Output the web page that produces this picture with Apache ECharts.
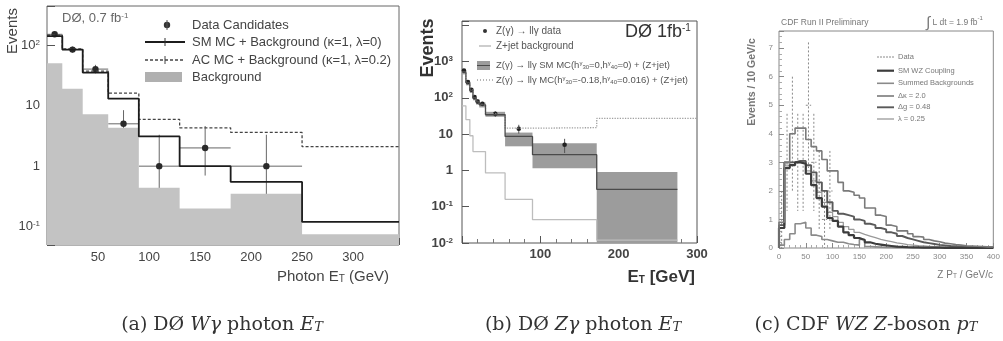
<!DOCTYPE html>
<html>
<head>
<meta charset="utf-8">
<script src="https://cdn.jsdelivr.net/npm/echarts@6/dist/echarts.min.js"></script>
<style>
  html, body { margin: 0; padding: 0; background: #fff; }
  #chart { width: 1003px; height: 341px; }
</style>
</head>
<body>
<div id="chart"></div>
<script>
// (a) DØ Wγ photon ET, histogram bins in GeV
const aEdges = [0, 15, 35, 60, 90, 130, 180, 250, 345];
const aBackground = [50, 19, 7.2, 4.3, 0.44, 0.2, 0.35, 0.075];
const aSM = [140, 84, 35, 13, 3.1, 1.0, 0.55, 0.12];
const aAC = [145, 86, 37, 16, 5.9, 4.3, 3.6, 2.1];
const aData = [150, 84, 40, 5, 1, 2, 1];
const aDataLo = [138, 75, 34, 3.1, 0.05, 0.7, 0.05];
const aDataHi = [163, 94, 47, 8.4, 3.3, 4.6, 3.3];

// (b) DØ Zγ photon ET
const bEdges = [0, 5, 10, 14, 18, 22, 30, 55, 90, 172, 275];
const bACEdges = [0, 5, 10, 14, 18, 22, 30, 55, 90, 172, 300];
const bData = [560, 270, 166, 104, 79, 68, 36, 14, 5.1];
const bDataLo = [530, 250, 153, 94, 70, 60, 30, 10.3, 3.0];
const bDataHi = [590, 290, 180, 115, 88, 77, 42, 18, 7.4];
const bSM = [520, 260, 160, 100, 78, 64, 34, 8.6, 2.7, 0.3];
const bSMLo = [440, 220, 135, 85, 65, 54, 30, 4.6, 1.15, 0.01];
const bSMHi = [600, 300, 185, 115, 90, 74, 41, 11, 5.6, 0.9];
const bZjet = [60, 25, 9, 3.3, 3.3, 3.3, 0.85, 0.16, 0.044, 0.012];
const bAC = [525, 262, 162, 101, 79, 66, 36, 14.5, 15, 27];

// (c) CDF WZ Z-boson pT, 10 GeV/c bins
const cEdges = [0, 10, 20, 30, 40, 50, 60, 70, 80, 90, 100, 110, 120, 130, 140, 150, 160, 170, 180, 190, 200,
  210, 220, 230, 240, 250, 260, 270, 280, 290, 300, 310, 320, 330, 340, 350, 360, 370, 380, 390, 400];
const cDk = [0.9, 3.0, 4.0, 4.2, 4.2, 3.8, 3.55, 3.4, 3.1, 2.7, 2.7, 2.3, 2.0, 1.95, 1.85, 1.75, 1.4, 1.4, 1.15, 1.1,
  0.8, 0.75, 0.6, 0.6, 0.5, 0.4, 0.38, 0.3, 0.25, 0.22, 0.17, 0.15, 0.12, 0.1, 0.08, 0.07, 0.06, 0.05, 0.04, 0.04];
const cDg = [0.8, 3.0, 3.0, 3.05, 3.05, 2.9, 2.65, 2.3, 2.0, 1.6, 1.3, 1.2, 1.15, 1.1, 1.0, 0.95, 0.85, 0.8, 0.7, 0.65,
  0.55, 0.5, 0.42, 0.35, 0.3, 0.25, 0.2, 0.17, 0.14, 0.11, 0.09, 0.07, 0.06, 0.05, 0.04, 0.04, 0.03, 0.03, 0.02, 0.02];
const cLam = [0.7, 2.9, 3.0, 3.05, 3.0, 2.7, 2.35, 1.95, 1.6, 1.25, 1.1, 0.9, 0.75, 0.65, 0.55, 0.48, 0.42, 0.36, 0.3, 0.26,
  0.22, 0.18, 0.15, 0.12, 0.1, 0.08, 0.07, 0.06, 0.05, 0.04, 0.035, 0.03, 0.025, 0.02, 0.02, 0.015, 0.015, 0.01, 0.01, 0.01];
const cSM = [0.7, 2.8, 2.9, 3.0, 2.95, 2.6, 2.2, 1.75, 1.45, 1.05, 0.95, 0.75, 0.55, 0.45, 0.35, 0.28, 0.2, 0.15, 0.12, 0.09,
  0.07, 0.05, 0.04, 0.03, 0.025, 0.02, 0.015, 0.01, 0.01, 0.01, 0.005, 0.005, 0, 0, 0, 0, 0, 0, 0, 0];
const cBkg = [0.1, 0.3, 0.5, 0.85, 0.9, 0.7, 0.45, 0.4, 0.3, 0.25, 0.2, 0.2, 0.15, 0.12, 0.1, 0.3, 0.05, 0.04, 0.03, 0.02,
  0.02, 0.01, 0.01, 0.01, 0.01, 0, 0, 0, 0, 0, 0, 0, 0, 0, 0, 0, 0, 0, 0, 0];
const cData = [1, 3, 4, 3, 3, 5, 3, 2, 1, 2];
const cDataErr = [1, 1.7, 2, 1.7, 1.7, 2.2, 1.7, 1.4, 1, 1.4];

const FONT = "'Liberation Sans', Arial, Helvetica, sans-serif";
const SERIF = "'DejaVu Serif', 'Liberation Serif', serif";

const chart = echarts.init(document.getElementById('chart'));

function steps(edges, vals, fromZero) {
  const pts = vals.map((v, i) => [edges[i], v]);
  pts.push([edges[vals.length], vals[vals.length - 1]]);
  if (fromZero) pts.unshift([edges[0], 0]);
  return pts;
}

function logLabel(maxExp) {
  return function (v) {
    const e = Math.log10(v);
    const r = Math.round(e);
    if (Math.abs(e - r) > 1e-6 || r > maxExp) return '';
    if (r === 0) return '{b|1}';
    if (r === 1) return '{b|10}';
    return '{b|10}{s|' + r + '}';
  };
}

function errBars(o) {
  return function (params, api) {
    const x = api.value(0), y = api.value(1);
    const c = api.coord([x, y]);
    const lo = api.coord([x, api.value(2)]);
    const hi = api.coord([x, api.value(3)]);
    const l = api.coord([api.value(4), y]);
    const r = api.coord([api.value(5), y]);
    const st = { stroke: o.bar, lineWidth: o.w, lineDash: o.dash || null };
    const kids = [
      { type: 'line', shape: { x1: c[0], y1: hi[1], x2: c[0], y2: lo[1] }, style: st },
      { type: 'line', shape: { x1: l[0], y1: c[1], x2: r[0], y2: c[1] }, style: st }
    ];
    if (o.r) kids.push({ type: 'circle', shape: { cx: c[0], cy: c[1], r: o.r }, style: { fill: o.dot } });
    return { type: 'group', children: kids };
  };
}

function bandRect(params, api) {
  const p0 = api.coord([api.value(0), api.value(3)]);
  const p1 = api.coord([api.value(1), api.value(2)]);
  return {
    type: 'rect',
    shape: { x: p0[0], y: p0[1], width: p1[0] - p0[0], height: p1[1] - p0[1] },
    style: { fill: '#9c9c9c' }
  };
}

function txt(x, y, text, o) {
  o = o || {};
  const size = o.size || 12;
  const color = o.color || '#444';
  const base = { fontSize: size, fontFamily: o.family || FONT, fontWeight: o.weight || 'normal', fontStyle: o.italic ? 'italic' : 'normal', fill: color };
  return {
    type: 'text', x: x, y: y, rotation: o.rot || 0, z: 100, silent: true,
    style: Object.assign({}, base, {
      text: text,
      align: o.align || 'left', verticalAlign: o.va || 'middle',
      textAlign: o.align || 'left', textVerticalAlign: o.va || 'middle',
      rich: o.rich
    })
  };
}

function seg(x1, y1, x2, y2, stroke, w, dash) {
  return { type: 'line', z: 100, silent: true, shape: { x1, y1, x2, y2 }, style: { stroke, lineWidth: w, lineDash: dash || null } };
}

function tok(size, color, extra) {
  return Object.assign({ fontSize: size, fontFamily: FONT, fill: color, color: color }, extra || {});
}

function caption(x, parts) {
  const n = tok(19, '#333', { fontFamily: SERIF });
  const i = tok(19, '#333', { fontFamily: SERIF, fontStyle: 'italic' });
  const t = tok(13, '#333', { fontFamily: SERIF, fontStyle: 'italic', verticalAlign: 'bottom' });
  return txt(x, 325, parts, { size: 19, align: 'center', rich: { n, i, t } });
}

const xBase = {
  type: 'value',
  axisLine: { show: false },
  splitLine: { show: false },
  axisTick: { inside: true, length: 7, lineStyle: { color: '#555' } },
  minorTick: { show: true, splitNumber: 5, length: 4, lineStyle: { color: '#777' } }
};

const option = {
  animation: false,
  backgroundColor: '#fff',
  grid: [
    { left: 47, top: 6, width: 352, height: 239, show: true, borderColor: '#666', borderWidth: 1 },
    { left: 462, top: 21, width: 235, height: 222, show: true, borderColor: '#555', borderWidth: 1 },
    { left: 779, top: 31, width: 215, height: 217, show: true, borderColor: '#888', borderWidth: 1 }
  ],
  xAxis: [
    Object.assign({}, xBase, {
      gridIndex: 0, min: 0, max: 345, interval: 50,
      axisLabel: { margin: 6, fontSize: 13, fontFamily: FONT, color: '#444',
        formatter: v => (v > 0 && v % 50 === 0) ? String(v) : '' }
    }),
    Object.assign({}, xBase, {
      gridIndex: 1, min: 0, max: 300, interval: 100,
      axisLabel: { margin: 5, fontSize: 13, fontWeight: 'bold', fontFamily: FONT, color: '#444',
        formatter: v => (v > 0 && v % 100 === 0) ? String(v) : '' }
    }),
    Object.assign({}, xBase, {
      gridIndex: 2, min: 0, max: 400, interval: 50,
      axisTick: { inside: true, length: 5, lineStyle: { color: '#888' } },
      minorTick: { show: true, splitNumber: 5, length: 3, lineStyle: { color: '#aaa' } },
      axisLabel: { margin: 5, fontSize: 8, fontFamily: FONT, color: '#888' }
    })
  ],
  yAxis: [
    {
      gridIndex: 0, type: 'log', logBase: 10, min: 0.05, max: 440,
      axisLine: { show: false }, splitLine: { show: false },
      axisTick: { inside: true, length: 8, lineStyle: { color: '#555' } },
      axisLabel: { margin: 7, formatter: logLabel(2),
        rich: { b: tok(13, '#444'), s: tok(8, '#444', { verticalAlign: 'top' }) } }
    },
    {
      gridIndex: 1, type: 'log', logBase: 10, min: 0.01, max: 13000,
      axisLine: { show: false }, splitLine: { show: false },
      axisTick: { inside: true, length: 7, lineStyle: { color: '#555' } },
      axisLabel: { margin: 9, formatter: logLabel(3),
        rich: { b: tok(13, '#444', { fontWeight: 'bold' }), s: tok(8, '#444', { verticalAlign: 'top', fontWeight: 'bold' }) } }
    },
    {
      gridIndex: 2, type: 'value', min: 0, max: 7.6, interval: 1,
      axisLine: { show: false }, splitLine: { show: false },
      axisTick: { inside: true, length: 5, lineStyle: { color: '#888' } },
      minorTick: { show: true, splitNumber: 5, length: 3, lineStyle: { color: '#aaa' } },
      axisLabel: { margin: 6, fontSize: 8, fontFamily: FONT, color: '#888',
        formatter: v => Number.isInteger(v) ? String(v) : '' }
    }
  ],
  series: [
    // ---- (a)
    { type: 'line', xAxisIndex: 0, yAxisIndex: 0, step: 'end', symbol: 'none', silent: true,
      data: steps(aEdges, aBackground), lineStyle: { width: 0 },
      areaStyle: { color: '#c3c3c3', opacity: 1, origin: 'start' } },
    { type: 'line', xAxisIndex: 0, yAxisIndex: 0, step: 'end', symbol: 'none', silent: true,
      data: steps(aEdges, aAC), lineStyle: { color: '#444', width: 1.3, type: [3, 2] } },
    { type: 'line', xAxisIndex: 0, yAxisIndex: 0, step: 'end', symbol: 'none', silent: true,
      data: steps(aEdges, aSM), lineStyle: { color: '#1c1c1c', width: 1.8 } },
    { type: 'custom', xAxisIndex: 0, yAxisIndex: 0, silent: true,
      renderItem: errBars({ bar: '#666', w: 1, r: 3.2, dot: '#2a2a2a' }),
      encode: { x: 0, y: 1 },
      data: aData.map((v, i) => [(aEdges[i] + aEdges[i + 1]) / 2, v, aDataLo[i], aDataHi[i], aEdges[i], aEdges[i + 1]]) },

    // ---- (b)
    { type: 'custom', xAxisIndex: 1, yAxisIndex: 1, silent: true, renderItem: bandRect,
      encode: { x: [0, 1], y: [2, 3] },
      data: bSM.map((v, i) => [bEdges[i], bEdges[i + 1], bSMLo[i], bSMHi[i]]) },
    { type: 'line', xAxisIndex: 1, yAxisIndex: 1, step: 'end', symbol: 'none', silent: true,
      data: steps(bEdges, bZjet), lineStyle: { color: '#bdbdbd', width: 1.3 } },
    { type: 'line', xAxisIndex: 1, yAxisIndex: 1, step: 'end', symbol: 'none', silent: true,
      data: steps(bACEdges, bAC), lineStyle: { color: '#a0a0a0', width: 1.3, type: 'dotted' } },
    { type: 'line', xAxisIndex: 1, yAxisIndex: 1, step: 'end', symbol: 'none', silent: true,
      data: steps(bEdges, bSM), lineStyle: { color: '#4a4a4a', width: 1.3 } },
    { type: 'custom', xAxisIndex: 1, yAxisIndex: 1, silent: true,
      renderItem: errBars({ bar: '#555', w: 1, r: 2.3, dot: '#222' }),
      encode: { x: 0, y: 1 },
      data: bData.map((v, i) => {
        const c = (bEdges[i] + bEdges[i + 1]) / 2;
        return [c, v, bDataLo[i], bDataHi[i], c, c];
      }) },

    // ---- (c)
    { type: 'line', xAxisIndex: 2, yAxisIndex: 2, step: 'end', symbol: 'none', silent: true,
      data: steps(cEdges, cBkg, true), lineStyle: { color: '#8a8a8a', width: 1.6 } },
    { type: 'line', xAxisIndex: 2, yAxisIndex: 2, step: 'end', symbol: 'none', silent: true,
      data: steps(cEdges, cLam, true), lineStyle: { color: '#9a9a9a', width: 1.3 } },
    { type: 'line', xAxisIndex: 2, yAxisIndex: 2, step: 'end', symbol: 'none', silent: true,
      data: steps(cEdges, cDg, true), lineStyle: { color: '#5a5a5a', width: 1.9 } },
    { type: 'line', xAxisIndex: 2, yAxisIndex: 2, step: 'end', symbol: 'none', silent: true,
      data: steps(cEdges, cSM, true), lineStyle: { color: '#3c3c3c', width: 2.2 } },
    { type: 'line', xAxisIndex: 2, yAxisIndex: 2, step: 'end', symbol: 'none', silent: true,
      data: steps(cEdges, cDk, true), lineStyle: { color: '#7a7a7a', width: 1.6 } },
    { type: 'custom', xAxisIndex: 2, yAxisIndex: 2, silent: true,
      renderItem: errBars({ bar: '#8a8a8a', w: 1, dash: [2, 2] }),
      encode: { x: 0, y: 1 },
      data: cData.map((v, i) => [(cEdges[i] + cEdges[i + 1]) / 2, v, v - cDataErr[i], v + cDataErr[i], cEdges[i], cEdges[i + 1]]) }
  ],
  graphic: [
    // ---- (a) labels and legend
    txt(13, 31, 'Events', { size: 15, rot: Math.PI / 2, align: 'center', color: '#444' }),
    txt(277, 277, '{n|Photon E}{t|T}{n| (GeV)}', { size: 15, rich: {
      n: tok(15, '#444'), t: tok(10, '#444', { verticalAlign: 'bottom' }) } }),
    txt(62, 18, '{n|DØ, 0.7 fb}{s|-1}', { size: 13, rich: {
      n: tok(13, '#666'), s: tok(8, '#666', { verticalAlign: 'top' }) } }),
    { type: 'circle', z: 100, silent: true, shape: { cx: 167, cy: 25, r: 3.2 }, style: { fill: '#333' } },
    seg(167, 20, 167, 30, '#555', 1),
    seg(145, 42, 185, 42, '#1c1c1c', 1.8),
    seg(165, 38, 165, 46, '#333', 1),
    seg(145, 60, 185, 60, '#444', 1.3, [3, 2]),
    seg(165, 56, 165, 64, '#444', 1),
    { type: 'rect', z: 100, silent: true, shape: { x: 145, y: 72, width: 37, height: 10 }, style: { fill: '#b0b0b0' } },
    txt(192, 25, 'Data Candidates', { size: 13 }),
    txt(192, 42, 'SM MC + Background (κ=1, λ=0)', { size: 13 }),
    txt(192, 60, 'AC MC + Background (κ=1, λ=0.2)', { size: 13 }),
    txt(192, 77, 'Background', { size: 13 }),

    // ---- (b) labels and legend
    txt(428, 48, 'Events', { size: 18, weight: 'bold', rot: Math.PI / 2, align: 'center', color: '#333' }),
    txt(695, 277, '{n|E}{t|T}{n| [GeV]}', { size: 17, align: 'right', rich: {
      n: tok(17, '#333', { fontWeight: 'bold' }), t: tok(10, '#333', { verticalAlign: 'bottom', fontWeight: 'bold' }) } }),
    txt(625, 32, '{n|DØ 1fb}{s|-1}', { size: 18, rich: {
      n: tok(18, '#333'), s: tok(10, '#333', { verticalAlign: 'top' }) } }),
    { type: 'circle', z: 100, silent: true, shape: { cx: 485, cy: 31, r: 2 }, style: { fill: '#333' } },
    seg(479, 46, 491, 46, '#bdbdbd', 1.5),
    { type: 'rect', z: 100, silent: true, shape: { x: 477, y: 61, width: 13, height: 9 }, style: { fill: '#9c9c9c' } },
    seg(477, 65.5, 490, 65.5, '#4a4a4a', 1),
    seg(477, 80, 493, 80, '#a0a0a0', 1.3, [1, 2]),
    txt(496, 31, 'Z(γ) → llγ data', { size: 10, color: '#555' }),
    txt(496, 46, 'Z+jet background', { size: 10, color: '#555' }),
    txt(496, 65, '{n|Z(γ) → llγ SM MC(h}{s|γ}{b|30}{n|=0,h}{s|γ}{b|40}{n|=0) + (Z+jet)}', { size: 10, rich: {
      n: tok(9.5, '#555'), s: tok(6, '#555', { verticalAlign: 'top' }), b: tok(6, '#555', { verticalAlign: 'bottom' }) } }),
    txt(496, 80, '{n|Z(γ) → llγ MC(h}{s|γ}{b|30}{n|=-0.18,h}{s|γ}{b|40}{n|=0.016) + (Z+jet)}', { size: 10, rich: {
      n: tok(9.5, '#555'), s: tok(6, '#555', { verticalAlign: 'top' }), b: tok(6, '#555', { verticalAlign: 'bottom' }) } }),

    // ---- (c) labels and legend
    txt(752, 82, 'Events / 10 GeV/c', { size: 10.5, weight: 'bold', rot: Math.PI / 2, align: 'center', color: '#777' }),
    txt(993, 275, '{n|Z P}{t|T}{n| / GeV/c}', { size: 10, align: 'right', rich: {
      n: tok(10, '#777'), t: tok(6.5, '#777', { verticalAlign: 'bottom' }) } }),
    txt(781, 23, 'CDF Run II Preliminary', { size: 8.5, color: '#777' }),
    txt(926, 23, '{i|∫}{n| L dt = 1.9 fb}{s|-1}', { size: 8.5, rich: {
      i: tok(15, '#777'), n: tok(8.5, '#777'), s: tok(6, '#777', { verticalAlign: 'top' }) } }),
    seg(877, 57, 894, 57, '#8a8a8a', 1, [2, 1]),
    seg(877, 70.7, 894, 70.7, '#3c3c3c', 2.2),
    seg(877, 83.3, 894, 83.3, '#8a8a8a', 1.6),
    seg(877, 96, 894, 96, '#7a7a7a', 1.6),
    seg(877, 107.3, 894, 107.3, '#5a5a5a', 1.9),
    seg(877, 119, 894, 119, '#9a9a9a', 1.3),
    txt(898, 57, 'Data', { size: 7.5, color: '#777' }),
    txt(898, 70.7, 'SM WZ Coupling', { size: 7.5, color: '#777' }),
    txt(898, 83.3, 'Summed Backgrounds', { size: 7.5, color: '#777' }),
    txt(898, 96, 'Δκ = 2.0', { size: 7.5, color: '#777' }),
    txt(898, 107.3, 'Δg = 0.48', { size: 7.5, color: '#777' }),
    txt(898, 119, 'λ = 0.25', { size: 7.5, color: '#777' }),

    // ---- captions
    caption(222, '{n|(a) DØ }{i|Wγ}{n| photon }{i|E}{t|T}'),
    caption(583, '{n|(b) DØ }{i|Zγ}{n| photon }{i|E}{t|T}'),
    caption(866, '{n|(c) CDF }{i|WZ Z}{n|-boson }{i|p}{t|T}')
  ]
};

chart.setOption(option);
</script>
</body>
</html>
